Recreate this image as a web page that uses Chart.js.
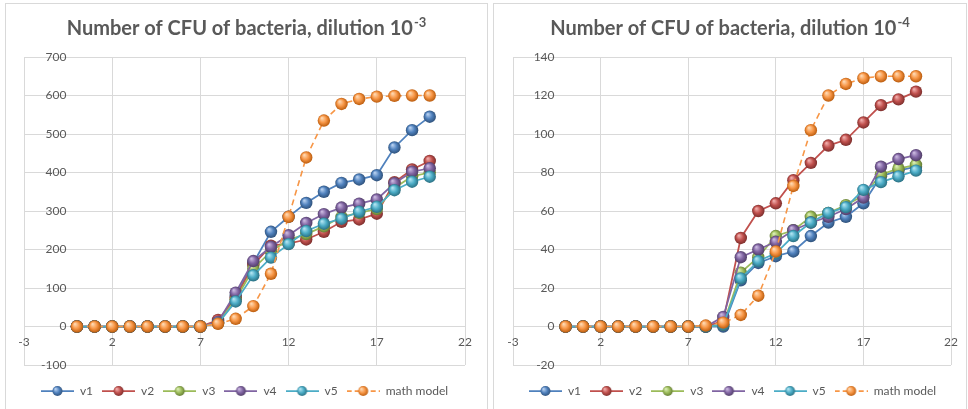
<!DOCTYPE html>
<html>
<head>
<meta charset="utf-8">
<script src="https://cdn.jsdelivr.net/npm/chart.js@4.4.1/dist/chart.umd.min.js"></script>
<style>
    body { margin: 0; background: #fff; width: 968px; height: 409px; overflow: hidden; position: relative; }
    .panel { position: absolute; top: 3px; height: 412px; border: 1px solid #d9d9d9; background: #fff; }
    #p1 { left: 5px; width: 481px; }
    #p2 { left: 493px; width: 472px; }
    canvas { display: block; }
</style>
</head>
<body>
<div class="panel" id="p1"><canvas id="chart1" width="481" height="406"></canvas></div>
<div class="panel" id="p2"><canvas id="chart2" width="472" height="406"></canvas></div>
<script>
// x values (time points), same for every series
const xValues = [0, 1, 2, 3, 4, 5, 6, 7, 8, 9, 10, 11, 12, 13, 14, 15, 16, 17, 18, 19, 20];
const xTicks = [-3, 2, 7, 12, 17, 22];
const seriesNames = ['v1', 'v2', 'v3', 'v4', 'v5', 'math model'];

// dilution 10^-3
const d3v1 = [0, 0, 0, 0, 0, 0, 0, 0, 10, 80, 165, 246, 285, 321, 350, 373, 382, 393, 465, 510, 545];
const d3v2 = [0, 0, 0, 0, 0, 0, 0, 0, 17, 75, 160, 210, 215, 226, 246, 272, 278, 293, 375, 408, 430];
const d3v3 = [0, 0, 0, 0, 0, 0, 0, 0, 10, 70, 150, 195, 225, 240, 260, 285, 295, 305, 360, 390, 400];
const d3v4 = [0, 0, 0, 0, 0, 0, 0, 0, 12, 88, 170, 207, 237, 269, 292, 309, 319, 330, 372, 402, 411];
const d3v5 = [0, 0, 0, 0, 0, 0, 0, 0, 8, 65, 133, 179, 214, 248, 267, 280, 298, 311, 354, 376, 389];
const d3model = [0, 0, 0, 0, 0, 0, 0, 0, 7, 20, 53, 137, 285, 439, 535, 578, 591, 597, 599, 600, 600];

// dilution 10^-4
const d4v1 = [0, 0, 0, 0, 0, 0, 0, 0, 0, 0, 24, 33, 36.5, 39, 47, 54, 57, 64, 78, 81, 83];
const d4v2 = [0, 0, 0, 0, 0, 0, 0, 0, 0, 3, 46, 60, 64, 76, 85, 94, 97, 106, 115, 118, 122];
const d4v3 = [0, 0, 0, 0, 0, 0, 0, 0, 0, 1, 28, 36, 47, 50, 57, 59, 63, 68, 79, 82, 84];
const d4v4 = [0, 0, 0, 0, 0, 0, 0, 0, 0, 5, 36, 40, 44, 50, 54, 57, 61, 67, 83, 87, 89];
const d4v5 = [0, 0, 0, 0, 0, 0, 0, 0, 0, 1, 25, 34, 38, 47, 54, 59, 62, 71, 75, 78, 81];
const d4model = [0, 0, 0, 0, 0, 0, 0, 0, 0.5, 2, 6, 16, 39, 73, 102, 120, 126, 129, 130, 130, 130];

// excel 2010 palette: base, highlight, shade
const palette = [
    ['#4f81bd', '#b3cdee', '#2c4d75'],
    ['#c0504d', '#efaaa8', '#772c2a'],
    ['#9bbb59', '#d9ecb2', '#5f7530'],
    ['#8064a2', '#c8b6de', '#4d3b62'],
    ['#4bacc6', '#aee2f0', '#276a7c'],
    ['#f79646', '#fed6ae', '#b65708']
];

const textColor = '#595959';
const gridColor = '#d9d9d9';
const fontFamily = 'Lato, "Open Sans", sans-serif';

// 3d-ish marker fill, same look as the excel spheres
function sphereFill(ctx, col) {
    const c = ctx.chart;
    if (!c.chartArea || !ctx.parsed) return col[0];
    const x = c.scales.x.getPixelForValue(ctx.parsed.x);
    const y = c.scales.y.getPixelForValue(ctx.parsed.y);
    const g = c.ctx.createRadialGradient(x - 2, y - 2.5, 0.5, x, y, 6.5);
    g.addColorStop(0, col[1]);
    g.addColorStop(0.5, col[0]);
    g.addColorStop(1, col[2]);
    return g;
}

function legendIcon(col, dashed) {
    const cv = document.createElement('canvas');
    cv.width = 33;
    cv.height = 14;
    const g = cv.getContext('2d');
    g.strokeStyle = col[0];
    g.lineWidth = 1.75;
    if (dashed) g.setLineDash([5, 3]);
    g.beginPath();
    g.moveTo(0, 7);
    g.lineTo(33, 7);
    g.stroke();
    const gr = g.createRadialGradient(14.5, 5, 0.5, 16.5, 7, 5.5);
    gr.addColorStop(0, col[1]);
    gr.addColorStop(0.5, col[0]);
    gr.addColorStop(1, col[2]);
    g.fillStyle = gr;
    g.beginPath();
    g.arc(16.5, 7, 5, 0, Math.PI * 2);
    g.fill();
    return cv;
}

// title with superscript exponent
const supTitle = {
    id: 'supTitle',
    afterDraw(chart, args, opts) {
        const g = chart.ctx;
        const big = 'bold 20px ' + fontFamily;
        const small = 'bold 13px ' + fontFamily;
        g.save();
        g.font = big;
        const w1 = g.measureText(opts.text).width;
        g.font = small;
        const w2 = g.measureText(opts.sup).width;
        const x0 = chart.width / 2 - (w1 + w2 + 1) / 2;
        g.fillStyle = textColor;
        g.textAlign = 'left';
        g.textBaseline = 'alphabetic';
        g.font = big;
        g.fillText(opts.text, x0, 31);
        g.font = small;
        g.fillText(opts.sup, x0 + w1 + 1, 23);
        g.restore();
    }
};

function makeChart(id, series, yMin, yMax, yStep, sup, pad, labelOffset) {
    const datasets = series.map((vals, i) => ({
        label: seriesNames[i],
        data: xValues.map((x, k) => ({ x: x, y: vals[k] })),
        borderColor: palette[i][0],
        borderWidth: i === 5 ? 1.6 : 1.75,
        borderDash: i === 5 ? [6, 4] : [],
        pointRadius: 6.2,
        pointBorderWidth: 0,
        pointBackgroundColor: ctx => sphereFill(ctx, palette[i]),
        order: 5 - i,
        tension: 0
    }));

    return new Chart(document.getElementById(id), {
        type: 'line',
        data: { datasets },
        plugins: [supTitle],
        options: {
            responsive: false,
            animation: false,
            layout: { padding: pad },
            plugins: {
                supTitle: { text: 'Number of CFU of bacteria, dilution 10', sup: sup },
                tooltip: { enabled: false },
                legend: {
                    position: 'bottom',
                    title: { display: true, text: '', padding: { top: 10, bottom: 0 }, font: { size: 1, lineHeight: 1 } },
                    labels: {
                        usePointStyle: true,
                        pointStyleWidth: 33,
                        padding: 9,
                        color: textColor,
                        font: { family: fontFamily, size: 12 },
                        generateLabels: chart => chart.data.datasets.map((ds, i) => ({
                            text: ds.label,
                            pointStyle: legendIcon(palette[i], i === 5),
                            fillStyle: palette[i][0],
                            strokeStyle: palette[i][0],
                            lineWidth: 0,
                            fontColor: textColor,
                            hidden: false,
                            datasetIndex: i
                        }))
                    }
                }
            },
            scales: {
                x: {
                    type: 'linear',
                    position: { y: 0 },
                    min: -3,
                    max: 22,
                    afterBuildTicks: axis => { axis.ticks = xTicks.map(v => ({ value: v })); },
                    grid: { color: gridColor, drawTicks: false },
                    border: { display: false },
                    ticks: { color: textColor, padding: 8, font: { family: fontFamily, size: 12 } }
                },
                y: {
                    type: 'linear',
                    // labels sit a little left of the x = 0 crossing, like excel
                    position: { x: labelOffset },
                    min: yMin,
                    max: yMax,
                    ticks: { stepSize: yStep, color: textColor, font: { family: fontFamily, size: 12 } },
                    grid: { color: gridColor, drawTicks: false },
                    border: { display: false }
                }
            }
        }
    });
}

makeChart('chart1', [d3v1, d3v2, d3v3, d3v4, d3v5, d3model], -100, 700, 100, '-3',
    { left: 18, right: 22, top: 53, bottom: 3 }, -0.6);
makeChart('chart2', [d4v1, d4v2, d4v3, d4v4, d4v5, d4model], -20, 140, 20, '-4',
    { left: 19, right: 14, top: 53, bottom: 3 }, -0.63);
</script>
</body>
</html>
